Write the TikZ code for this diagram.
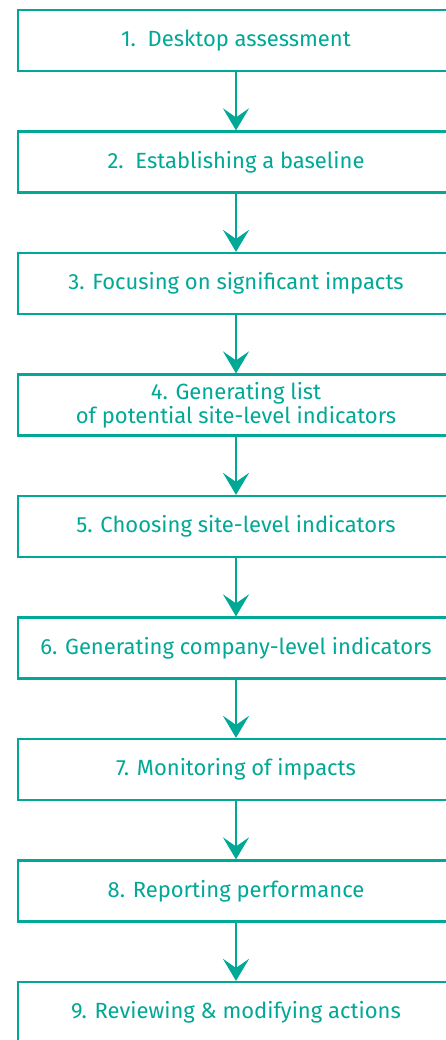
\documentclass[tikz,border=0pt]{standalone}
\usepackage{fontspec}
\setmainfont{Fira Sans}
\usetikzlibrary{arrows.meta}
\definecolor{teal1}{RGB}{0,168,150}
\begin{document}
\begin{tikzpicture}[x=1pt,y=-1pt,
  stepbox/.style={draw=teal1, line width=2.2pt, fill=white, minimum width=436pt, minimum height=61pt,
    inner sep=0pt, text=teal1, font=\fontsize{22}{24}\selectfont, align=center},
  flow/.style={draw=teal1, line width=2.5pt, -{Stealth[length=22pt,width=26pt,inset=9pt]}}]
\useasboundingbox (0,0) rectangle (446,1040);
\node[stepbox] (b1) at (236,40.5) {1.\ \ Desktop assessment};
\node[stepbox] (b2) at (236,162) {2.\ \ Establishing a baseline};
\node[stepbox] (b3) at (236,283.5) {3. Focusing on significant impacts};
\node[stepbox] (b4) at (236,405) {4. Generating list\\of potential site-level indicators};
\node[stepbox] (b5) at (236,526.5) {5. Choosing site-level indicators};
\node[stepbox] (b6) at (236,648) {6. Generating company-level indicators};
\node[stepbox] (b7) at (236,769.5) {7. Monitoring of impacts};
\node[stepbox] (b8) at (236,891) {8. Reporting performance};
\node[stepbox] (b9) at (236,1012.5) {9. Reviewing \& modifying actions};
\foreach \a/\b in {b1/b2,b2/b3,b3/b4,b4/b5,b5/b6,b6/b7,b7/b8,b8/b9}
  \draw[flow] (\a.south) -- (\b.north);
\end{tikzpicture}
\end{document}
